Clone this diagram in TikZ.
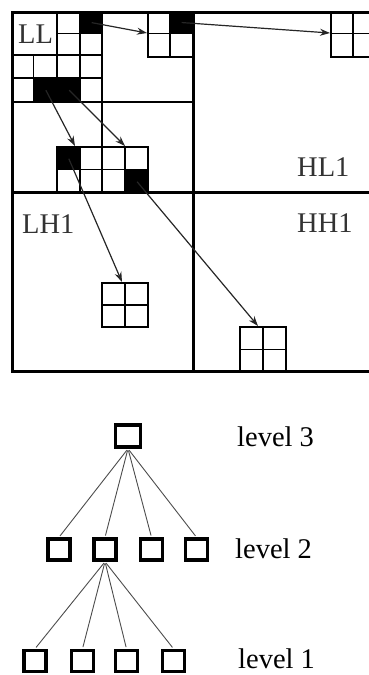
\documentclass[tikz,border=0pt]{standalone}
\usepackage{fontspec}
\setmainfont{Liberation Serif}
\usetikzlibrary{arrows.meta}

\tikzset{
  outerline/.style={line width=3pt},
  midline/.style={line width=2.6pt},
  subline/.style={line width=2pt},
  gridline/.style={line width=1.2pt},
  link/.style={line width=1.2pt, black!85, -{Stealth[length=10pt,width=7pt]}},
  bandlabel/.style={anchor=base west, inner sep=0pt, text=black!80,
    font=\fontsize{28.5}{30}\selectfont},
  levellabel/.style={anchor=base west, inner sep=0pt,
    font=\fontsize{28.5}{30}\selectfont},
  treebox/.style={draw, line width=3.5pt, minimum width=22pt, minimum height=21pt,
    inner sep=0pt},
  rootbox/.style={treebox, minimum width=25pt, minimum height=22pt},
  treeedge/.style={line width=0.9pt, black!70, shorten <=1.75pt, shorten >=1.75pt}
}

\begin{document}
\begin{tikzpicture}[x=1pt,y=-1pt]
\clip (0,0) rectangle (369,675);

% ---------- wavelet subbands ----------
% black coefficients
\fill (80,12) rectangle (102,33.5);
\fill (33.5,78) rectangle (80,101);
\fill (170,12) rectangle (192,33.5);
\fill (57,147) rectangle (80,169.5);
\fill (125,169.5) rectangle (148,192);

% anchors at the centres of the black coefficients
\node[inner sep=0pt] (b1) at (91,22.5) {};
\node[inner sep=0pt] (b2) at (181,22.5) {};
\node[inner sep=0pt] (b3) at (45.5,89.5) {};
\node[inner sep=0pt] (b4) at (68.5,89.5) {};
\node[inner sep=0pt] (b5) at (68.5,158) {};
\node[inner sep=0pt] (b6) at (136.5,181) {};

% fine grids, level 3
\draw[gridline] (80,12) -- (80,55) (57,33.5) -- (102,33.5);
\draw[gridline] (33.5,55) -- (33.5,101) (80,55) -- (80,101) (12,78) -- (102,78);
% grid in HL2
\draw[gridline] (148,12) -- (148,57) -- (192,57) (170,12) -- (170,57) (148,33.5) -- (192,33.5);
% grid in HL1
\draw[gridline] (331,12) -- (331,57) -- (375,57) (353,12) -- (353,57) (331,33.5) -- (375,33.5);
% grid across LH2 and HH2
\draw[gridline] (57,147) rectangle (148,192);
\draw[gridline] (80,147) -- (80,192) (125,147) -- (125,192) (57,169.5) -- (148,169.5);
% grid in LH1
\draw[gridline] (102,283) rectangle (148,327) (125,283) -- (125,327) (102,305) -- (148,305);
% grid in HH1
\draw[gridline] (240,327) rectangle (286,372) (263,327) -- (263,372) (240,349.5) -- (286,349.5);

% subband borders
\draw[subline] (12,55) -- (102,55) (57,12) -- (57,102);
\draw[midline] (12,102) -- (192,102) (102,12) -- (102,192);
\draw[outerline] (12,192) -- (372,192) (193,12) -- (193,372);
\draw[outerline] (12,12) rectangle (372,371.5);

% subband names
\node[bandlabel] (ll) at (18,43) {LL};
\node[bandlabel] (hl1) at (297,176) {HL1};
\node[bandlabel] (lh1) at (22,233) {LH1};
\node[bandlabel] (hh1) at (297,232) {HH1};

% targets of the parent-child arrows
\coordinate (c1) at (147,33);
\coordinate (c2) at (330,33);
\coordinate (c3) at (75,146);
\coordinate (c4) at (125,146);
\coordinate (c5) at (122,282);
\coordinate (c6) at (258,326);

\draw[link] (b1) -- (c1);
\draw[link] (b2) -- (c2);
\draw[link] (b3) -- (c3);
\draw[link] (b4) -- (c4);
\draw[link] (b5) -- (c5);
\draw[link] (b6) -- (c6);

% ---------- quadtree ----------
\node[rootbox] (r) at (128,436) {};
\node[treebox] (m1) at (59,549.5) {};
\node[treebox] (m2) at (105,549.5) {};
\node[treebox] (m3) at (151.5,549.5) {};
\node[treebox] (m4) at (196.5,549.5) {};
\node[treebox] (f1) at (35,661) {};
\node[treebox] (f2) at (82.5,661) {};
\node[treebox] (f3) at (126.5,661) {};
\node[treebox] (f4) at (173.5,661) {};

\foreach \m in {m1,m2,m3,m4} \draw[treeedge] (r.south) -- (\m.north);
\foreach \f in {f1,f2,f3,f4} \draw[treeedge] (m2.south) -- (\f.north);

\node[levellabel] (lv3) at (237,446) {level 3};
\node[levellabel] (lv2) at (235,558) {level 2};
\node[levellabel] (lv1) at (238,668) {level 1};
\end{tikzpicture}
\end{document}
